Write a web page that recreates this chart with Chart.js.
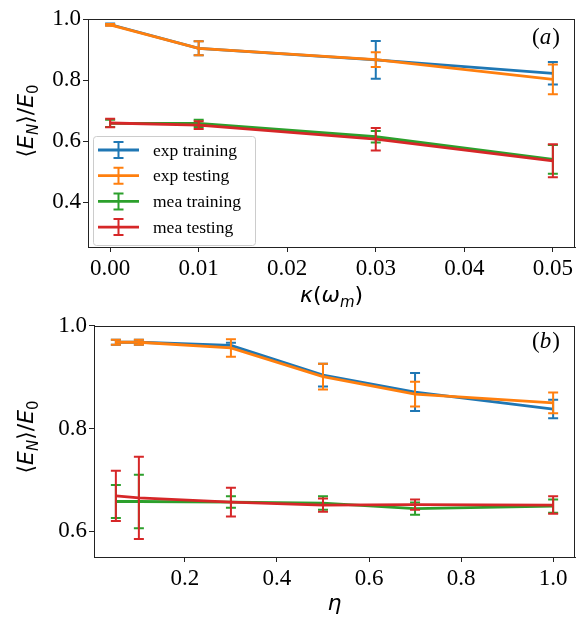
<!DOCTYPE html>
<html>
<head>
<meta charset="utf-8">
<script src="https://cdn.jsdelivr.net/npm/chart.js@4.4.0/dist/chart.umd.min.js"></script>
<style>
  body { margin: 0; background: #fff; }
  canvas { display: block; }
</style>
</head>
<body>
<canvas id="panelA" width="578" height="310"></canvas>
<canvas id="panelB" width="578" height="311"></canvas>
<script>
// Series names and colours
const seriesNames = ['exp training', 'exp testing', 'mea training', 'mea testing'];
const seriesColors = ['#1f77b4', '#ff7f0e', '#2ca02c', '#d62728'];

// Panel (a): kappa sweep
const kappa = [0, 0.01, 0.03, 0.05];
const expTrainA = [0.982, 0.904, 0.866, 0.822];
const expTrainAErr = [0.003, 0.023, 0.062, 0.037];
const expTestA = [0.981, 0.904, 0.867, 0.802];
const expTestAErr = [0.003, 0.023, 0.024, 0.049];
const meaTrainA = [0.658, 0.658, 0.614, 0.540];
const meaTrainAErr = [0.012, 0.012, 0.019, 0.047];
const meaTestA = [0.659, 0.652, 0.606, 0.535];
const meaTestAErr = [0.014, 0.013, 0.037, 0.054];
const xTicksA = [0, 0.01, 0.02, 0.03, 0.04, 0.05];
const yTicksA = [0.4, 0.6, 0.8, 1.0];

// Panel (b): eta sweep
const eta = [0.05, 0.1, 0.3, 0.5, 0.7, 1.0];
const expTrainB = [0.968, 0.968, 0.962, 0.904, 0.871, 0.838];
const expTrainBErr = [0.005, 0.005, 0.005, 0.022, 0.037, 0.018];
const expTestB = [0.968, 0.968, 0.957, 0.901, 0.867, 0.850];
const expTestBErr = [0.005, 0.005, 0.017, 0.025, 0.024, 0.020];
const meaTrainB = [0.658, 0.658, 0.657, 0.655, 0.644, 0.649];
const meaTrainBErr = [0.032, 0.052, 0.011, 0.013, 0.012, 0.013];
const meaTestB = [0.669, 0.665, 0.657, 0.651, 0.652, 0.651];
const meaTestBErr = [0.049, 0.080, 0.028, 0.013, 0.010, 0.017];
const xTicksB = [0.2, 0.4, 0.6, 0.8, 1.0];
const yTicksB = [0.6, 0.8, 1.0];

const tickFont = { family: 'Liberation Serif', size: 23 };

// draw text made of pieces (italic / subscript), centred on x
function drawRich(ctx, parts, x, y, size, angle) {
    ctx.save();
    ctx.translate(x, y);
    if (angle) ctx.rotate(angle);
    ctx.fillStyle = '#000';
    ctx.textBaseline = 'alphabetic';
    const fontOf = p => (p.it ? 'italic ' : '') + Math.round(p.sub ? size * 0.7 : size) + 'px "DejaVu Sans"';
    let total = 0;
    parts.forEach(p => { ctx.font = fontOf(p); p.w = ctx.measureText(p.t).width; total += p.w; });
    let cx = -total / 2;
    parts.forEach(p => {
        ctx.font = fontOf(p);
        ctx.fillText(p.t, cx, p.sub ? size * 0.22 : 0);
        cx += p.w;
    });
    ctx.restore();
}

const yTitleParts = () => [
    { t: '\u27E8' }, { t: 'E', it: true }, { t: 'N', it: true, sub: true }, { t: '\u27E9/' },
    { t: 'E', it: true }, { t: '0', sub: true }
];

// error bars, drawn right after each line so layering follows matplotlib
const errorBars = {
    id: 'errorBars',
    afterDatasetDraw(chart, args) {
        const ds = chart.data.datasets[args.index];
        const y = chart.scales.y;
        const ctx = chart.ctx;
        ctx.save();
        ctx.strokeStyle = ds.borderColor;
        ctx.lineWidth = 2;
        args.meta.data.forEach((pt, i) => {
            const v = ds.data[i].y, e = ds.errors[i];
            const top = y.getPixelForValue(v + e), bot = y.getPixelForValue(v - e);
            ctx.beginPath();
            ctx.moveTo(pt.x, top); ctx.lineTo(pt.x, bot);
            ctx.moveTo(pt.x - 5, top); ctx.lineTo(pt.x + 5, top);
            ctx.moveTo(pt.x - 5, bot); ctx.lineTo(pt.x + 5, bot);
            ctx.stroke();
        });
        ctx.restore();
    }
};

// box, titles, panel tag and legend
const decorations = {
    id: 'decorations',
    afterDraw(chart, args, o) {
        const ctx = chart.ctx;
        const a = chart.chartArea;
        ctx.save();
        ctx.strokeStyle = '#222';
        ctx.lineWidth = 1;
        ctx.strokeRect(Math.round(a.left) + 0.5, Math.round(a.top) + 0.5,
            Math.round(a.right - a.left) - 1, Math.round(a.bottom - a.top));
        ctx.restore();

        drawRich(ctx, o.xTitle, (a.left + a.right) / 2, o.xTitleY, 22, 0);
        drawRich(ctx, yTitleParts(), o.yTitleX, o.yTitleY, 22, -Math.PI / 2);

        // panel tag like (a)
        ctx.save();
        ctx.fillStyle = '#000';
        ctx.textBaseline = 'alphabetic';
        let tx = o.tagX;
        [['(', ''], [o.tag, 'italic '], [')', '']].forEach(([t, st]) => {
            ctx.font = st + '23px "Liberation Serif"';
            ctx.fillText(t, tx, o.tagY);
            tx += ctx.measureText(t).width + (st ? 1 : 0);
        });
        ctx.restore();

        if (o.legend) {
            const L = o.legend;
            ctx.save();
            ctx.beginPath();
            ctx.roundRect(L.x + 0.5, L.y + 0.5, L.w, L.h, 3);
            ctx.fillStyle = 'rgba(255,255,255,0.8)';
            ctx.fill();
            ctx.strokeStyle = '#cccccc';
            ctx.lineWidth = 1;
            ctx.stroke();
            chart.data.datasets.forEach((ds, i) => {
                const cy = L.y + 14 + i * 25.7;
                ctx.strokeStyle = ds.borderColor;
                ctx.lineWidth = 2.8;
                ctx.beginPath();
                ctx.moveTo(L.x + 5, cy); ctx.lineTo(L.x + 46, cy);
                ctx.stroke();
                const mx = L.x + 25.5;
                ctx.lineWidth = 2;
                ctx.beginPath();
                ctx.moveTo(mx, cy - 8); ctx.lineTo(mx, cy + 8);
                ctx.moveTo(mx - 5, cy - 8); ctx.lineTo(mx + 5, cy - 8);
                ctx.moveTo(mx - 5, cy + 8); ctx.lineTo(mx + 5, cy + 8);
                ctx.stroke();
                ctx.fillStyle = '#000';
                ctx.font = '17.5px "Liberation Serif"';
                ctx.textBaseline = 'middle';
                ctx.fillText(ds.label, L.x + 60, cy + 1);
            });
            ctx.restore();
        }
    }
};

function makeDatasets(xs, ys, errs) {
    return ys.map((vals, k) => ({
        label: seriesNames[k],
        data: xs.map((x, i) => ({ x: x, y: vals[i] })),
        errors: errs[k],
        borderColor: seriesColors[k],
        backgroundColor: seriesColors[k],
        borderWidth: 2.8,
        pointRadius: 0,
        tension: 0,
        order: 3 - k
    }));
}

function makeAxis(min, max, ticks, digits, fitSize, isY) {
    return {
        type: 'linear',
        min: min,
        max: max,
        afterBuildTicks: s => { s.ticks = ticks.map(v => ({ value: v })); },
        afterFit: s => { if (isY) s.width = fitSize; else s.height = fitSize; },
        grid: { drawOnChartArea: false, drawTicks: true, tickLength: 5, color: '#222' },
        border: { display: true, color: '#222', width: 1 },
        ticks: {
            font: tickFont,
            color: '#000',
            padding: isY ? 2 : 3,
            maxRotation: 0,
            minRotation: 0,
            autoSkip: false,
            callback: v => Number(v).toFixed(digits)
        }
    };
}

function makePanel(id, cfg) {
    return new Chart(document.getElementById(id), {
        type: 'line',
        data: { datasets: makeDatasets(cfg.xs, cfg.ys, cfg.errs) },
        options: {
            responsive: false,
            animation: false,
            devicePixelRatio: 1,
            layout: { padding: { top: cfg.padTop, right: 3, left: 0, bottom: 0 } },
            scales: {
                x: makeAxis(cfg.xMin, cfg.xMax, cfg.xTicks, cfg.xDigits, cfg.xFit, false),
                y: makeAxis(cfg.yMin, cfg.yMax, cfg.yTicks, 1, cfg.yFit, true)
            },
            plugins: {
                legend: { display: false },
                tooltip: { enabled: false },
                decorations: cfg.deco
            }
        },
        plugins: [errorBars, decorations]
    });
}

makePanel('panelA', {
    xs: kappa,
    ys: [expTrainA, expTestA, meaTrainA, meaTestA],
    errs: [expTrainAErr, expTestAErr, meaTrainAErr, meaTestAErr],
    xMin: -0.0025, xMax: 0.0525, xTicks: xTicksA, xDigits: 2,
    yMin: 0.2525, yMax: 1.0, yTicks: yTicksA,
    padTop: 19, xFit: 63, yFit: 88,
    deco: {
        xTitle: [{ t: '\u03BA', it: true }, { t: '(' }, { t: '\u03C9', it: true }, { t: 'm', it: true, sub: true }, { t: ')' }],
        xTitleY: 302, yTitleX: 33, yTitleY: 121,
        tag: 'a', tagX: 532, tagY: 44,
        legend: { x: 93, y: 136, w: 162, h: 109 }
    }
});

makePanel('panelB', {
    xs: eta,
    ys: [expTrainB, expTestB, meaTrainB, meaTestB],
    errs: [expTrainBErr, expTestBErr, meaTrainBErr, meaTestBErr],
    xMin: 0.0025, xMax: 1.0475, xTicks: xTicksB, xDigits: 1,
    yMin: 0.55, yMax: 1.0, yTicks: yTicksB,
    padTop: 8, xFit: 64, yFit: 94,
    deco: {
        xTitle: [{ t: '\u03B7', it: true }],
        xTitleY: 300, yTitleX: 33, yTitleY: 127,
        tag: 'b', tagX: 532, tagY: 38,
        legend: null
    }
});
</script>
</body>
</html>
